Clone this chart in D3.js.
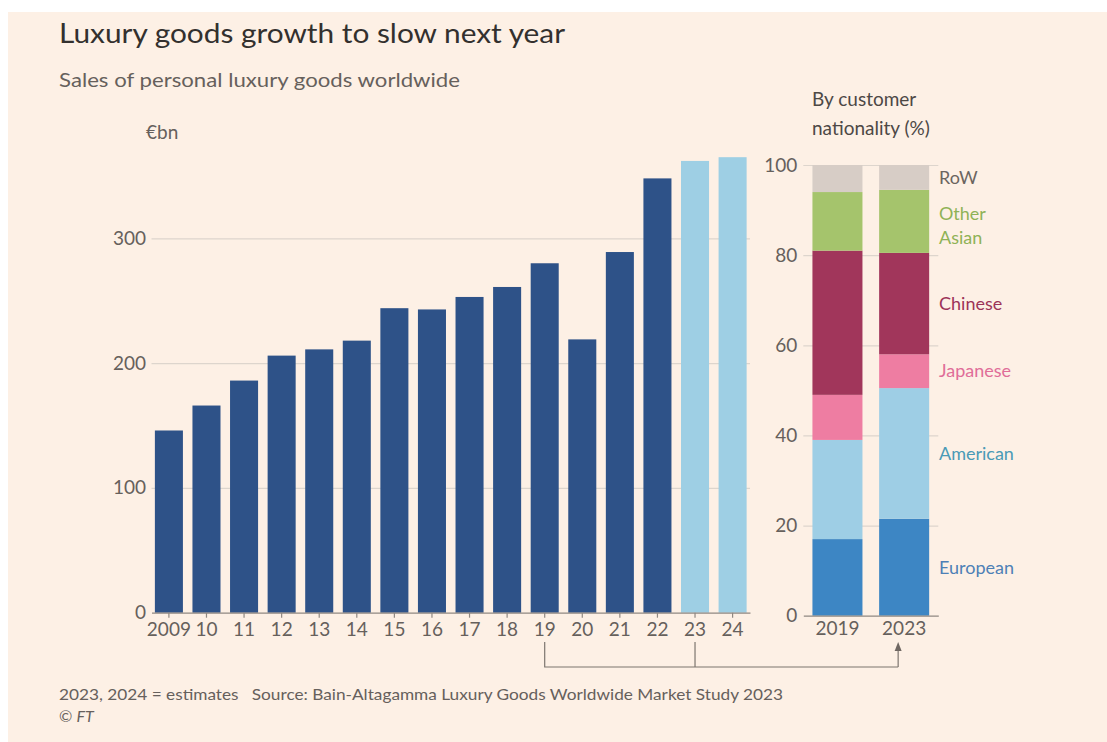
<!DOCTYPE html>
<html>
<head>
<meta charset="utf-8">
<script src="https://cdn.jsdelivr.net/npm/d3@7"></script>
<style>
  html, body { margin: 0; padding: 0; background: #ffffff; }
  svg { display: block; }
  text { font-family: Lato, "Open Sans", sans-serif; }
</style>
</head>
<body>
<svg id="chart" width="1107" height="742"></svg>
<script>
// Sales of personal luxury goods worldwide, €bn
const years = ["2009", "10", "11", "12", "13", "14", "15", "16", "17", "18", "19", "20", "21", "22", "23", "24"];
const sales = [146, 166, 186, 206, 211, 218, 244, 243, 253, 261, 280, 219, 289, 348, 362, 365];
const estimateYears = ["23", "24"];
const salesTicks = [0, 100, 200, 300];

// Share of sales by customer nationality, %
const shareYears = ["2019", "2023"];
const nationalities = ["European", "American", "Japanese", "Chinese", "Other Asian", "RoW"];
const share2019 = [17, 22, 10, 32, 13, 6];
const share2023 = [21.5, 29, 7.5, 22.5, 14, 5.5];
const shareTicks = [0, 20, 40, 60, 80, 100];

const segmentColors = {
  "European": "#3d86c4",
  "American": "#9ecee5",
  "Japanese": "#ee7da2",
  "Chinese": "#a1365b",
  "Other Asian": "#a5c46c",
  "RoW": "#d7cdc6"
};
const labelColors = {
  "European": "#4e80b6",
  "American": "#4a9ab6",
  "Japanese": "#e06d98",
  "Chinese": "#9c3358",
  "Other Asian": "#8fb256",
  "RoW": "#6b6560"
};

const svg = d3.select("#chart");
const W = 1107, H = 742;

svg.append("rect").attr("width", W).attr("height", H).attr("fill", "#ffffff");
svg.append("rect").attr("x", 8).attr("y", 12).attr("width", W - 8).attr("height", H - 12).attr("fill", "#fdf0e5");

const ink = "#33302e", muted = "#66605c", grid = "#ddd5cd", baseLine = "#8f8882";

// Headings
svg.append("text").attr("x", 59).attr("y", 43).attr("font-size", 26).attr("fill", ink)
  .attr("textLength", 506).attr("lengthAdjust", "spacingAndGlyphs")
  .text("Luxury goods growth to slow next year");
svg.append("text").attr("x", 59).attr("y", 87).attr("font-size", 19).attr("fill", muted)
  .attr("textLength", 401).attr("lengthAdjust", "spacingAndGlyphs")
  .text("Sales of personal luxury goods worldwide");
svg.append("text").attr("x", 146).attr("y", 139).attr("font-size", 19).attr("fill", muted)
  .text("€bn");

// ---- Main bar chart ----
const left = { x0: 151.5, x1: 750, yBase: 612.7, yTop: 238.3 };
const x = d3.scaleBand().domain(years).range([left.x0, left.x1])
  .paddingInner(0.254).paddingOuter(0.09);
const y = d3.scaleLinear().domain([0, 300]).range([left.yBase, left.yTop]);

const yAxis = svg.append("g").attr("transform", `translate(${left.x0},0)`)
  .call(d3.axisLeft(y).tickValues(salesTicks).tickSize(-(left.x1 - left.x0)).tickPadding(5.5));
yAxis.select(".domain").remove();
yAxis.selectAll(".tick line").attr("stroke", d => d === 0 ? "none" : grid).attr("stroke-width", 1.2);
yAxis.selectAll(".tick text").attr("font-size", 19).attr("fill", muted)
  .attr("font-family", "Lato, 'Open Sans', sans-serif");

svg.append("g").selectAll("rect").data(years).join("rect")
  .attr("x", d => x(d))
  .attr("width", x.bandwidth())
  .attr("y", (d, i) => y(sales[i]))
  .attr("height", (d, i) => y(0) - y(sales[i]))
  .attr("fill", d => estimateYears.includes(d) ? "#9ecfe4" : "#2e5288");

const xAxis = svg.append("g").attr("transform", `translate(0,${left.yBase})`)
  .call(d3.axisBottom(x).tickSize(5).tickSizeOuter(0).tickPadding(5));
xAxis.select(".domain").attr("stroke", baseLine).attr("stroke-width", 1.2);
xAxis.selectAll(".tick line").attr("stroke", baseLine).attr("stroke-width", 1.2);
xAxis.selectAll(".tick text").attr("font-size", 19).attr("fill", muted)
  .attr("font-family", "Lato, 'Open Sans', sans-serif");

// ---- Stacked share chart ----
const right = { x0: 803.3, x1: 938.3, yBase: 615.7, yTop: 165 };
const xs = d3.scaleBand().domain(shareYears).range([right.x0, right.x1])
  .paddingInner(0.25).paddingOuter(0.137);
const ys = d3.scaleLinear().domain([0, 100]).range([right.yBase, right.yTop]);

svg.append("text").attr("x", 812).attr("y", 106).attr("font-size", 19).attr("fill", "#4d4845")
  .text("By customer");
svg.append("text").attr("x", 812).attr("y", 135).attr("font-size", 19).attr("fill", "#4d4845")
  .text("nationality (%)");

const ysAxis = svg.append("g").attr("transform", `translate(${right.x0},0)`)
  .call(d3.axisLeft(ys).tickValues(shareTicks).tickSize(-(right.x1 - right.x0)).tickPadding(6));
ysAxis.select(".domain").remove();
ysAxis.selectAll(".tick line").attr("stroke", d => d === 0 ? "none" : grid).attr("stroke-width", 1.2);
ysAxis.selectAll(".tick text").attr("font-size", 19).attr("fill", muted)
  .attr("font-family", "Lato, 'Open Sans', sans-serif");

const shareRows = shareYears.map((yr, j) => {
  const src = j === 0 ? share2019 : share2023;
  const row = { year: yr };
  nationalities.forEach((n, i) => { row[n] = src[i]; });
  return row;
});
const stacked = d3.stack().keys(nationalities)(shareRows);

svg.append("g").selectAll("g").data(stacked).join("g")
  .attr("fill", s => segmentColors[s.key])
  .selectAll("rect").data(s => s).join("rect")
  .attr("x", d => xs(d.data.year))
  .attr("width", xs.bandwidth())
  .attr("y", d => ys(d[1]))
  .attr("height", d => ys(d[0]) - ys(d[1]));

const xsAxis = svg.append("g").attr("transform", `translate(0,${right.yBase})`)
  .call(d3.axisBottom(xs).tickSize(0).tickSizeOuter(0).tickPadding(6));
xsAxis.select(".domain").attr("stroke", baseLine).attr("stroke-width", 1.2);
xsAxis.selectAll(".tick text").attr("font-size", 19).attr("fill", muted)
  .attr("font-family", "Lato, 'Open Sans', sans-serif");

// Segment labels, placed beside the 2023 column
const last = stacked.map(s => s[1]);
const labelX = 939;
last.forEach((d, i) => {
  const key = nationalities[i];
  const mid = ys((d[0] + d[1]) / 2);
  const t = svg.append("text").attr("x", labelX).attr("font-size", 18).attr("fill", labelColors[key]);
  if (key === "Other Asian") {
    t.attr("y", mid - 1);
    t.append("tspan").attr("x", labelX).attr("dy", "0").text("Other");
    t.append("tspan").attr("x", labelX).attr("dy", "24").text("Asian");
  } else {
    t.attr("y", mid).attr("dy", "0.35em").text(key);
  }
});

// Bracket linking 2019 and 2023 to the share columns
const cx = d => x(d) + x.bandwidth() / 2;
const arrowX = xs("2023") + xs.bandwidth() / 2 - 6;
const bracketY = 667, stemTop = 642;
svg.append("defs").append("marker").attr("id", "head")
  .attr("viewBox", "0 0 10 10").attr("refX", 5).attr("refY", 10)
  .attr("markerWidth", 8).attr("markerHeight", 8).attr("orient", "auto-start-reverse")
  .append("path").attr("d", "M1,10 L5,0 L9,10 Z").attr("fill", "#6f6762");

const bracket = svg.append("g").attr("fill", "none").attr("stroke", "#7d756f").attr("stroke-width", 1.2);
bracket.append("path")
  .attr("d", `M${cx("19")},${stemTop} V${bracketY} H${arrowX}`);
bracket.append("path")
  .attr("d", `M${cx("23")},${stemTop} V${bracketY}`);
svg.append("line").attr("x1", arrowX).attr("x2", arrowX)
  .attr("y1", bracketY).attr("y2", stemTop + 8)
  .attr("stroke", "#7d756f").attr("stroke-width", 1.2);
svg.append("path")
  .attr("d", `M${arrowX - 3.5},${stemTop + 9} L${arrowX},${stemTop} L${arrowX + 3.5},${stemTop + 9} Z`)
  .attr("fill", "#6f6762");

// Footer
svg.append("text").attr("x", 59).attr("y", 700).attr("font-size", 16).attr("fill", muted)
  .attr("textLength", 724).attr("lengthAdjust", "spacingAndGlyphs")
  .attr("xml:space", "preserve")
  .text("2023, 2024 = estimates   Source: Bain-Altagamma Luxury Goods Worldwide Market Study 2023");
const ft = svg.append("text").attr("x", 59).attr("y", 721.5).attr("font-size", 16).attr("fill", muted);
ft.append("tspan").text("© ");
ft.append("tspan").attr("font-style", "italic").text("FT");
</script>
</body>
</html>
